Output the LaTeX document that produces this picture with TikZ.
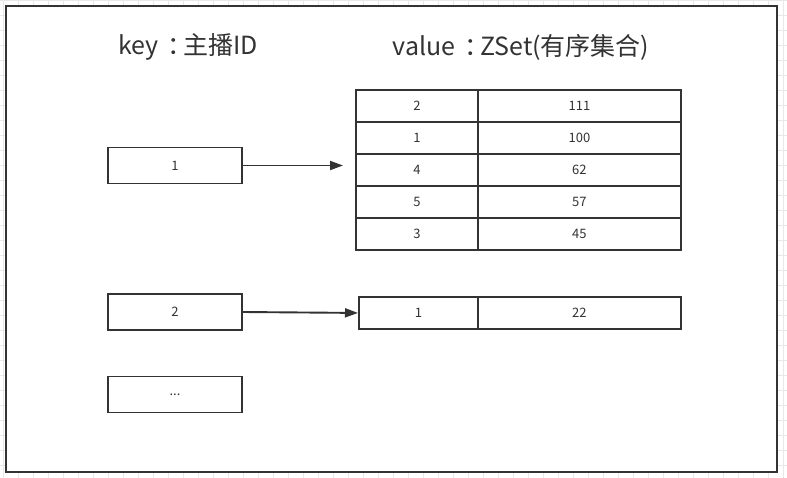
\documentclass[tikz,border=0pt]{standalone}
\usepackage{fontspec}
\setmainfont{Noto Sans CJK SC}
\usetikzlibrary{arrows.meta}
\definecolor{ink}{HTML}{333333}
\definecolor{gridline}{HTML}{E8E8E8}
\newcommand{\wcolon}{\kern0.35em：\kern-0.35em}
\tikzset{
  keybox/.style = {draw=ink, line width=1.9pt, minimum width=134pt,
    minimum height=36pt, inner sep=0pt, text=ink,
    font=\fontsize{13}{15}\selectfont},
  cell/.style = {draw=ink, line width=1.9pt, minimum height=32pt,
    inner sep=0pt, anchor=north west, text=ink,
    font=\fontsize{13}{15}\selectfont},
  title/.style = {text=ink, font=\fontsize{25}{30}\selectfont},
  link/.style = {draw=ink, line width=1.9pt, -{Triangle[length=13pt,width=9pt]}}
}
\begin{document}
\begin{tikzpicture}[x=1pt, y=-1pt]
  \useasboundingbox (0,0) rectangle (787,478);
  % background grid
  \foreach \x in {3.3,18.3,...,787} \draw[gridline, line width=0.8pt] (\x,0) -- (\x,478);
  \foreach \y in {0,15,...,478} \draw[gridline, line width=0.8pt] (0,\y) -- (787,\y);
  \draw[ink, line width=2.4pt, fill=white] (6,6) rectangle (777,472);
  % headings
  \node[title] (keyhead) at (188,47) {key\wcolon 主播ID};
  \node[title] (valhead) at (521,47) {value\wcolon ZSet(有序集合)};
  % keys
  \node[keybox] (k1) at (175,165.5) {1};
  \node[keybox] (k2) at (175,312) {2};
  \node[keybox] (k3) at (175,394.5) {...};
  % sorted set of key 1
  \foreach \m/\s [count=\i from 0] in {2/111,1/100,4/62,5/57,3/45} {
    \node[cell, minimum width=122pt] (m\i) at (355,{89+32*\i}) {\m};
    \node[cell, minimum width=203pt] (s\i) at (477,{89+32*\i}) {\s};
  }
  % sorted set of key 2
  \node[cell, minimum width=119pt] (n0) at (358,296) {1};
  \node[cell, minimum width=203pt] (t0) at (477,296) {22};
  % links
  \coordinate (a1) at (343,165.5);
  \draw[link] (k1.east) -- (a1);
  \draw[link] (k2.east) -- (n0.west);
\end{tikzpicture}
\end{document}
